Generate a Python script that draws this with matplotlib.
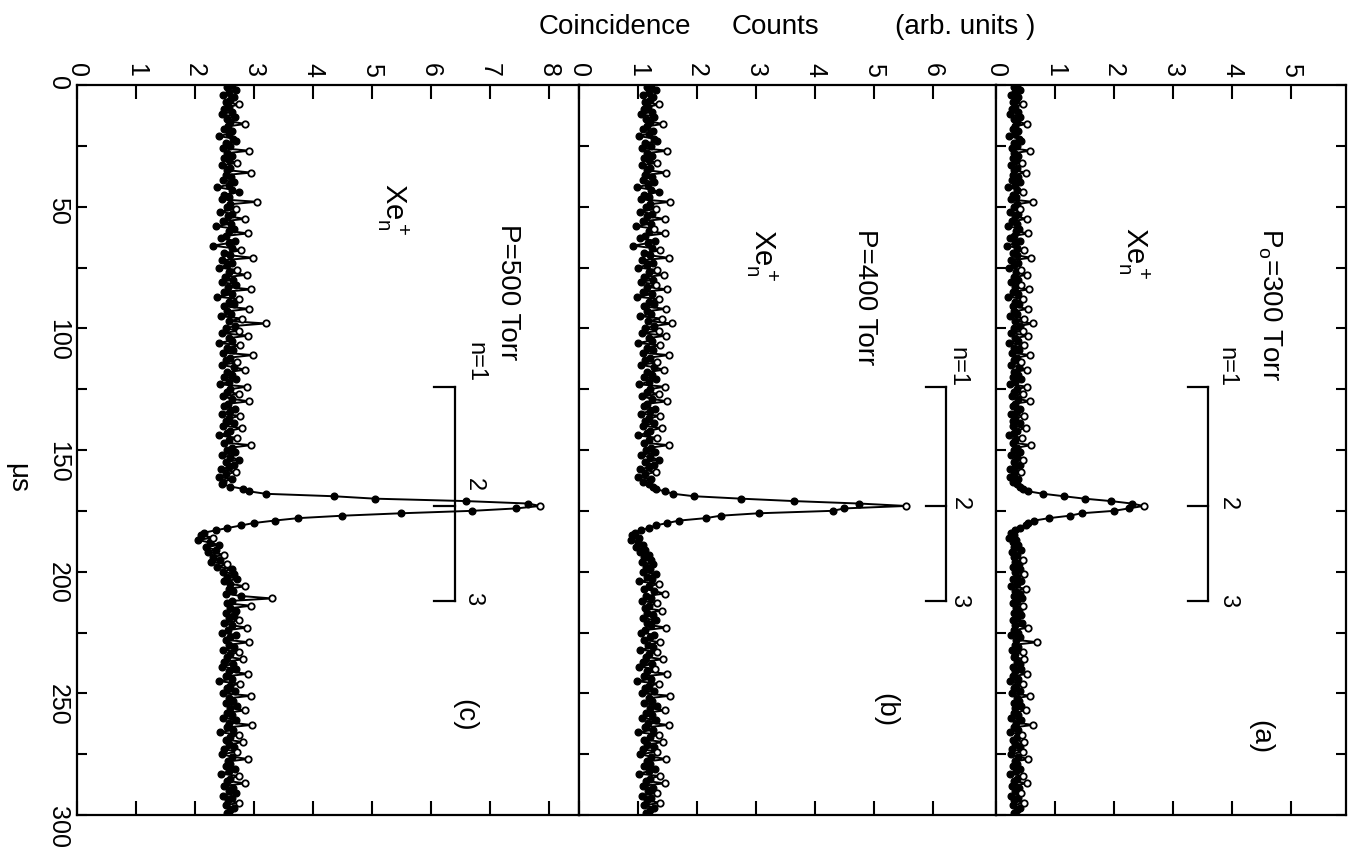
import matplotlib.pyplot as plt
import numpy as np

# arrival time axis, one channel per microsecond
time_us = np.arange(0, 301)

# panel (c): P = 500 Torr
counts_c = [
    2.62, 2.55, 2.70, 2.58, 2.48, 2.66, 2.60, 2.52, 2.75, 2.57, 2.50, 2.63, 2.45, 2.68, 2.54, 2.60, 2.85, 2.56, 2.49, 2.62,
    2.58, 2.41, 2.65, 2.70, 2.52, 2.60, 2.47, 2.92, 2.55, 2.63, 2.50, 2.58, 2.72, 2.46, 2.60, 2.55, 2.95, 2.52, 2.61, 2.48,
    2.66, 2.57, 2.38, 2.62, 2.75, 2.50, 2.58, 2.45, 3.05, 2.60, 2.54, 2.70, 2.42, 2.63, 2.56, 2.85, 2.48, 2.61, 2.35, 2.66,
    2.58, 2.90, 2.52, 2.44, 2.68, 2.57, 2.30, 2.62, 2.78, 2.50, 2.60, 2.98, 2.46, 2.63, 2.55, 2.40, 2.72, 2.58, 2.88, 2.51,
    2.64, 2.45, 2.70, 2.56, 2.95, 2.49, 2.62, 2.38, 2.75, 2.58, 2.66, 2.50, 2.92, 2.55, 2.61, 2.44, 2.80, 2.57, 3.20, 2.68,
    2.52, 2.74, 2.46, 2.90, 2.58, 2.63, 2.40, 2.77, 2.55, 2.65, 2.48, 2.98, 2.60, 2.52, 2.72, 2.45, 2.66, 2.85, 2.55, 2.62,
    2.50, 2.70, 2.58, 2.42, 2.88, 2.60, 2.55, 2.74, 2.47, 2.63, 2.92, 2.56, 2.50, 2.68, 2.60, 2.45, 2.76, 2.58, 2.52, 2.66,
    2.48, 2.80, 2.60, 2.55, 2.40, 2.72, 2.58, 2.50, 2.95, 2.62, 2.54, 2.68, 2.45, 2.60, 2.75, 2.52, 2.66, 2.58, 2.44, 2.70,
    2.52, 2.40, 2.62, 2.48, 2.45, 2.60, 2.82, 2.92, 3.20, 4.35, 5.05, 6.60, 7.65, 7.85, 7.45, 6.70, 5.50, 4.50, 3.75, 3.35,
    3.00, 2.78, 2.55, 2.35, 2.15, 2.10, 2.30, 2.05, 2.25, 2.40, 2.18, 2.35, 2.22, 2.50, 2.30, 2.42, 2.28, 2.55, 2.38, 2.62,
    2.48, 2.66, 2.55, 2.72, 2.50, 2.60, 2.85, 2.58, 2.65, 2.52, 2.78, 3.30, 2.62, 2.55, 2.95, 2.60, 2.70, 2.52, 2.66, 2.58,
    2.74, 2.50, 2.62, 2.88, 2.56, 2.45, 2.70, 2.60, 2.52, 2.92, 2.58, 2.66, 2.48, 2.75, 2.60, 2.55, 2.82, 2.50, 2.64, 2.45,
    2.70, 2.58, 2.90, 2.52, 2.62, 2.40, 2.76, 2.60, 2.55, 2.68, 2.48, 2.95, 2.58, 2.64, 2.52, 2.72, 2.60, 2.85, 2.55, 2.62,
    2.48, 2.70, 2.58, 2.96, 2.55, 2.64, 2.42, 2.75, 2.60, 2.52, 2.82, 2.58, 2.66, 2.50, 2.72, 2.45, 2.62, 2.90, 2.56, 2.60,
    2.52, 2.68, 2.58, 2.44, 2.75, 2.60, 2.55, 2.85, 2.50, 2.64, 2.58, 2.70, 2.48, 2.62, 2.56, 2.74, 2.52, 2.66, 2.60, 2.55,
    2.58,
]

# panel (b): P = 400 Torr
counts_b = [
    1.22, 1.15, 1.30, 1.18, 1.08, 1.26, 1.20, 1.12, 1.35, 1.17, 1.10, 1.24, 1.05, 1.28, 1.14, 1.20, 1.42, 1.16, 1.09, 1.25,
    1.18, 1.02, 1.27, 1.32, 1.12, 1.22, 1.07, 1.50, 1.15, 1.24, 1.10, 1.19, 1.33, 1.06, 1.21, 1.15, 1.48, 1.12, 1.23, 1.08,
    1.28, 1.17, 0.98, 1.22, 1.36, 1.10, 1.19, 1.05, 1.55, 1.20, 1.14, 1.30, 1.03, 1.24, 1.16, 1.45, 1.08, 1.22, 0.96, 1.27,
    1.18, 1.46, 1.12, 1.04, 1.29, 1.17, 0.92, 1.23, 1.38, 1.10, 1.20, 1.52, 1.06, 1.25, 1.15, 1.00, 1.33, 1.18, 1.44, 1.11,
    1.25, 1.05, 1.31, 1.16, 1.50, 1.09, 1.23, 0.98, 1.36, 1.18, 1.27, 1.10, 1.47, 1.15, 1.22, 1.04, 1.40, 1.17, 1.58, 1.28,
    1.12, 1.35, 1.06, 1.48, 1.18, 1.24, 1.00, 1.38, 1.15, 1.26, 1.08, 1.52, 1.20, 1.12, 1.33, 1.05, 1.27, 1.44, 1.15, 1.23,
    1.10, 1.31, 1.18, 1.02, 1.45, 1.20, 1.15, 1.35, 1.07, 1.24, 1.50, 1.16, 1.10, 1.29, 1.20, 1.05, 1.37, 1.18, 1.12, 1.27,
    1.08, 1.40, 1.20, 1.15, 1.00, 1.33, 1.18, 1.10, 1.52, 1.22, 1.14, 1.29, 1.05, 1.20, 1.36, 1.12, 1.27, 1.18, 1.04, 1.31,
    1.12, 1.00, 1.22, 1.08, 1.18, 1.25, 1.30, 1.45, 1.60, 1.95, 2.75, 3.65, 4.75, 5.55, 4.50, 4.30, 3.05, 2.40, 2.15, 1.70,
    1.50, 1.30, 1.18, 1.05, 0.95, 0.90, 1.02, 0.88, 1.00, 1.08, 0.96, 1.12, 1.04, 1.18, 1.10, 1.22, 1.06, 1.26, 1.14, 1.20,
    1.08, 1.30, 1.16, 1.24, 1.02, 1.36, 1.18, 1.10, 1.28, 1.45, 1.14, 1.22, 1.06, 1.33, 1.19, 1.12, 1.40, 1.16, 1.25, 1.08,
    1.30, 1.15, 1.22, 1.48, 1.12, 1.05, 1.28, 1.20, 1.10, 1.38, 1.17, 1.26, 1.04, 1.32, 1.18, 1.13, 1.42, 1.09, 1.24, 1.02,
    1.29, 1.16, 1.50, 1.10, 1.22, 0.98, 1.35, 1.19, 1.12, 1.27, 1.06, 1.55, 1.18, 1.24, 1.10, 1.32, 1.20, 1.46, 1.14, 1.23,
    1.06, 1.30, 1.17, 1.52, 1.12, 1.25, 1.00, 1.36, 1.20, 1.10, 1.43, 1.16, 1.27, 1.08, 1.33, 1.03, 1.22, 1.48, 1.15, 1.21,
    1.10, 1.29, 1.18, 1.02, 1.37, 1.20, 1.14, 1.45, 1.08, 1.25, 1.17, 1.32, 1.06, 1.22, 1.15, 1.38, 1.11, 1.27, 1.20, 1.13,
    1.18,
]

# panel (a): Po = 300 Torr
counts_a = [
    0.35, 0.30, 0.40, 0.33, 0.26, 0.38, 0.34, 0.29, 0.45, 0.32, 0.27, 0.37, 0.24, 0.40, 0.31, 0.35, 0.52, 0.32, 0.28, 0.38,
    0.33, 0.22, 0.39, 0.42, 0.30, 0.36, 0.27, 0.58, 0.31, 0.37, 0.28, 0.34, 0.44, 0.25, 0.36, 0.31, 0.50, 0.29, 0.37, 0.27,
    0.40, 0.33, 0.21, 0.36, 0.46, 0.29, 0.34, 0.25, 0.62, 0.35, 0.30, 0.41, 0.23, 0.37, 0.32, 0.52, 0.27, 0.36, 0.20, 0.39,
    0.34, 0.55, 0.30, 0.24, 0.40, 0.33, 0.18, 0.36, 0.47, 0.29, 0.35, 0.60, 0.26, 0.38, 0.31, 0.22, 0.43, 0.34, 0.52, 0.30,
    0.38, 0.25, 0.42, 0.32, 0.56, 0.28, 0.37, 0.21, 0.46, 0.33, 0.39, 0.29, 0.54, 0.31, 0.36, 0.24, 0.48, 0.33, 0.62, 0.40,
    0.30, 0.45, 0.26, 0.55, 0.33, 0.38, 0.22, 0.47, 0.31, 0.39, 0.27, 0.58, 0.35, 0.30, 0.43, 0.25, 0.39, 0.52, 0.31, 0.37,
    0.29, 0.42, 0.33, 0.23, 0.53, 0.35, 0.31, 0.45, 0.27, 0.38, 0.57, 0.32, 0.28, 0.41, 0.35, 0.25, 0.47, 0.33, 0.29, 0.40,
    0.28, 0.50, 0.35, 0.31, 0.22, 0.44, 0.33, 0.28, 0.60, 0.36, 0.31, 0.41, 0.25, 0.35, 0.46, 0.30, 0.40, 0.33, 0.24, 0.42,
    0.31, 0.24, 0.37, 0.28, 0.35, 0.40, 0.45, 0.55, 0.80, 1.15, 1.50, 1.95, 2.30, 2.50, 2.25, 2.00, 1.45, 1.25, 0.90, 0.65,
    0.55, 0.50, 0.40, 0.33, 0.26, 0.30, 0.22, 0.34, 0.28, 0.38, 0.31, 0.42, 0.27, 0.36, 0.30, 0.45, 0.33, 0.39, 0.28, 0.41,
    0.32, 0.47, 0.35, 0.29, 0.43, 0.36, 0.26, 0.50, 0.33, 0.40, 0.30, 0.44, 0.35, 0.28, 0.46, 0.34, 0.39, 0.31, 0.42, 0.36,
    0.29, 0.44, 0.33, 0.55, 0.31, 0.37, 0.26, 0.41, 0.34, 0.70, 0.32, 0.38, 0.27, 0.45, 0.33, 0.30, 0.48, 0.35, 0.40, 0.28,
    0.42, 0.33, 0.52, 0.29, 0.38, 0.24, 0.45, 0.34, 0.31, 0.40, 0.27, 0.58, 0.35, 0.39, 0.30, 0.43, 0.33, 0.50, 0.31, 0.37,
    0.26, 0.42, 0.34, 0.62, 0.30, 0.38, 0.23, 0.44, 0.35, 0.29, 0.48, 0.33, 0.40, 0.27, 0.45, 0.25, 0.37, 0.55, 0.32, 0.36,
    0.28, 0.41, 0.34, 0.24, 0.46, 0.35, 0.30, 0.52, 0.27, 0.39, 0.33, 0.43, 0.26, 0.37, 0.31, 0.47, 0.29, 0.40, 0.35, 0.30,
    0.33,
]

panel_tags = ["(c)", "(b)", "(a)"]
pressure_labels = ["P=500 Torr", "P=400 Torr", r"$\mathregular{P_o}$=300 Torr"]
count_ticks = [list(range(0, 9)), list(range(0, 7)), list(range(0, 6))]
count_max = [8.51, 7.07, 5.93]
cluster_times = [124, 173, 212]      # n = 1, 2, 3 arrival times (us)
time_ticks = list(range(0, 301, 25))

SANS = ["Liberation Sans", "DejaVu Sans"]
plt.rcParams["font.family"] = SANS

W, H = 1354, 849
fig = plt.figure(figsize=(W / 100, H / 100), dpi=100)

edges_px = [77, 579, 996, 1346]
top_px, bot_px = 85, 815

# text positions (counts, time) for each panel
layout = [
    dict(p=(7.31, 85), xe=(5.35, 51), tag=(6.56, 259), br=6.40, lab=(6.75, 6.72, 6.72), lab_t=(114, 164, 211)),
    dict(p=(4.85, 87), xe=(3.10, 70), tag=(5.20, 257), br=6.22, lab=(6.42, 6.45, 6.45), lab_t=(116, 172, 212)),
    dict(p=(4.64, 90), xe=(2.33, 69), tag=(4.47, 268), br=3.60, lab=(3.90, 3.93, 3.93), lab_t=(116, 172, 212)),
]

series = [counts_c, counts_b, counts_a]
thresholds = [0.2, 0.2, 0.13]

for i, counts in enumerate(series):
    l = edges_px[i] / W
    w = (edges_px[i + 1] - edges_px[i]) / W
    ax = fig.add_axes([l, 1 - bot_px / H, w, (bot_px - top_px) / H])
    y = np.asarray(counts)

    ax.plot(y, time_us, color="black", lw=1.4, zorder=2)

    # open circles mark isolated upward excursions, as in the original plot
    dev = np.zeros_like(y)
    dev[1:-1] = y[1:-1] - 0.5 * (y[:-2] + y[2:])
    is_open = dev > thresholds[i]
    peak = int(np.argmax(y))
    is_open[peak - 8:peak + 9] = False
    is_open[peak] = True

    ax.plot(y[~is_open], time_us[~is_open], "o", ms=4.8, color="black", zorder=3)
    ax.plot(y[is_open], time_us[is_open], "o", ms=4.6, mfc="white", mec="black", mew=1.3, zorder=4)

    ax.set_xlim(0, count_max[i])
    ax.set_ylim(300, 0)
    ax.xaxis.tick_top()
    ax.set_xticks(count_ticks[i])
    ax.set_yticks(time_ticks)
    if i == 0:
        ax.set_yticklabels([str(t) if t % 50 == 0 else "" for t in time_ticks])
    else:
        ax.set_yticklabels([])
    ax.tick_params(axis="x", which="both", direction="in", top=True, bottom=True,
                   length=10, width=1.5, labelsize=18, labelrotation=-90, pad=6)
    ax.tick_params(axis="y", direction="in", left=True, right=(i == 2),
                   length=7, width=1.5, labelsize=18, labelrotation=-90, pad=5)
    for s in ax.spines.values():
        s.set_linewidth(1.6)

    lay = layout[i]
    ax.text(*lay["p"], pressure_labels[i], rotation=-90, ha="center", va="center", fontsize=20)
    ax.text(*lay["xe"], r"$\mathregular{Xe_n^+}$", rotation=-90, ha="center", va="center", fontsize=21)
    ax.text(*lay["tag"], panel_tags[i], rotation=-90, ha="center", va="center", fontsize=20)

    # n = 1, 2, 3 arrival-time bracket
    bx = lay["br"]
    ax.plot([bx, bx], [cluster_times[0], cluster_times[-1]], color="black", lw=1.6)
    for t in cluster_times:
        ax.plot([bx - 0.34, bx], [t, t], color="black", lw=1.6)
    for txt, lx, lt in zip(["n=1", "2", "3"], lay["lab"], lay["lab_t"]):
        ax.text(lx, lt, txt, rotation=-90, ha="center", va="center", fontsize=17)

fig.text(615 / W, 1 - 27 / H, "Coincidence", fontsize=20, ha="center", va="center")
fig.text(775 / W, 1 - 27 / H, "Counts", fontsize=20, ha="center", va="center")
fig.text(965 / W, 1 - 27 / H, "(arb. units )", fontsize=20, ha="center", va="center")
fig.text(17 / W, 1 - 478 / H, "μs", rotation=-90, fontsize=20, ha="center", va="center")

fig.savefig("out.png", dpi=100, facecolor="white")
